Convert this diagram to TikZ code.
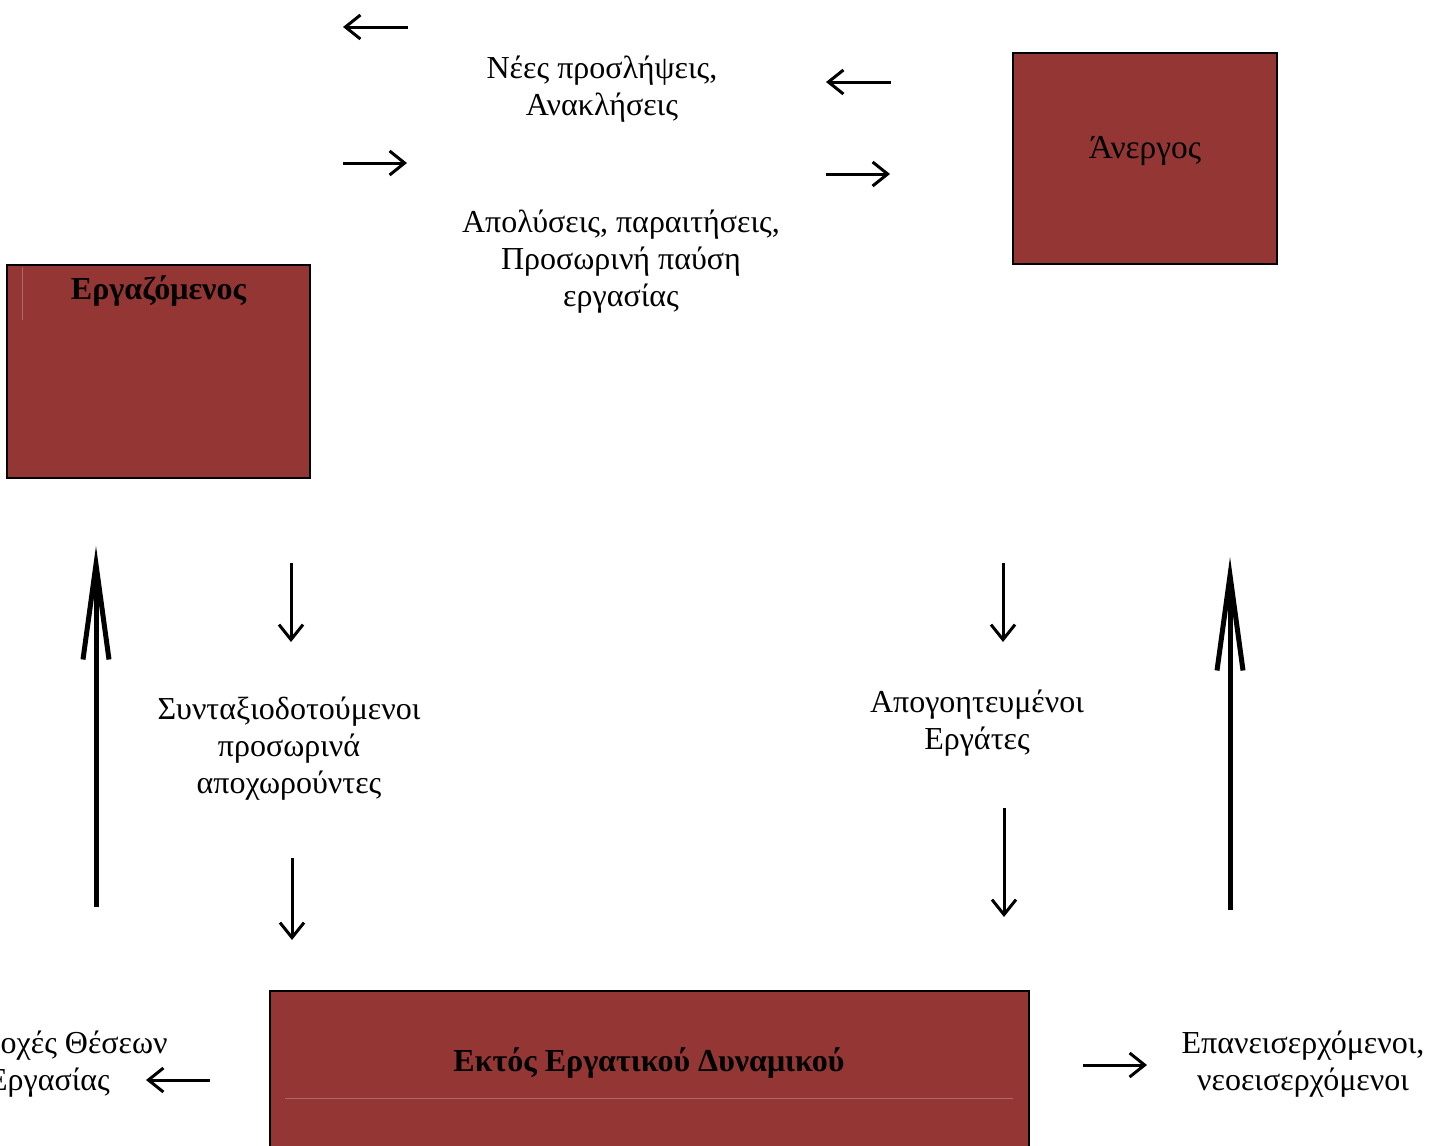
\documentclass[tikz,border=0pt]{standalone}
\usepackage{fontspec}
\setmainfont{Liberation Serif}
\usetikzlibrary{arrows.meta}

\definecolor{boxred}{RGB}{147,54,52}

\begin{document}
\begin{tikzpicture}[x=0.01cm,y=-0.01cm,
  box/.style={draw, line width=0.02cm, fill=boxred, inner sep=0pt},
  lbl/.style={align=center, font=\fontsize{9.1}{10.5}\selectfont},
  head/.style={align=center, font=\fontsize{9.1}{10.5}\selectfont\bfseries},
  arr/.style={line width=0.03cm, -{Straight Barb[length=0.15cm,width=0.24cm]}},
  bigarr/.style={line width=0.05cm, -{Straight Barb[length=0.95cm,width=0.26cm]}}]
\useasboundingbox (0,0) rectangle (1443,1145);

% states
\node[box, minimum width=3.03cm, minimum height=2.13cm] (work) at (158.5,371.5) {};
\node[box, minimum width=2.64cm, minimum height=2.11cm] (unemp) at (1145,158.5) {};
\node[box, minimum width=7.59cm, minimum height=1.70cm] (out) at (649.5,1076) {};
\draw[boxred!75!white, line width=0.01cm] (22,267) -- (22,320);
\draw[boxred!75!white, line width=0.01cm] (285,1098) -- (1013,1098);

\node[head, anchor=north] (worklbl) at ([yshift=0.01cm]work.north) {Εργαζόμενος};
\node[lbl, font=\fontsize{9.5}{10.5}\selectfont] (unemplbl) at (1145,151) {Άνεργος};
\node[head] (outlbl) at (649,1063) {Εκτός Εργατικού Δυναμικού};

% flows
\node[lbl] (hire) at (602,89) {Νέες προσλήψεις,\\Ανακλήσεις};
\node[lbl] (fire) at (621,262) {Απολύσεις, παραιτήσεις,\\Προσωρινή παύση\\εργασίας};
\node[lbl] (retire) at (289,749) {Συνταξιοδοτούμενοι\\προσωρινά\\αποχωρούντες};
\node[lbl] (discour) at (977,723) {Απογοητευμένοι\\Εργάτες};
\node[lbl] (accept) at (49,1064) {Αποδοχές Θέσεων\\Εργασίας};
\node[lbl] (reenter) at (1303,1064) {Επανεισερχόμενοι,\\νεοεισερχόμενοι};

% arrows
\coordinate (a1) at (408,27);   \coordinate (b1) at (343,27);
\coordinate (a2) at (343,163);  \coordinate (b2) at (407,163);
\coordinate (a3) at (891,82);   \coordinate (b3) at (826,82);
\coordinate (a4) at (826,174);  \coordinate (b4) at (890,174);
\coordinate (a5) at (291,563);  \coordinate (b5) at (291,642);
\coordinate (a6) at (292,858);  \coordinate (b6) at (292,940);
\coordinate (a7) at (1003,563); \coordinate (b7) at (1003,642);
\coordinate (a8) at (1004,808); \coordinate (b8) at (1004,917);
\coordinate (a9) at (210,1080); \coordinate (b9) at (146,1080);
\coordinate (a10) at (1083,1065); \coordinate (b10) at (1147,1065);
\coordinate (up1) at (96,907);  \coordinate (tip1) at (96,546);
\coordinate (up2) at (1230,910); \coordinate (tip2) at (1230,557);

\draw[arr] (a1) -- (b1);
\draw[arr] (a2) -- (b2);
\draw[arr] (a3) -- (b3);
\draw[arr] (a4) -- (b4);
\draw[arr] (a5) -- (b5);
\draw[arr] (a6) -- (b6);
\draw[arr] (a7) -- (b7);
\draw[arr] (a8) -- (b8);
\draw[arr] (a9) -- (b9);
\draw[arr] (a10) -- (b10);
\draw[bigarr] (up1) -- (tip1);
\draw[bigarr] (up2) -- (tip2);
\end{tikzpicture}
\end{document}
